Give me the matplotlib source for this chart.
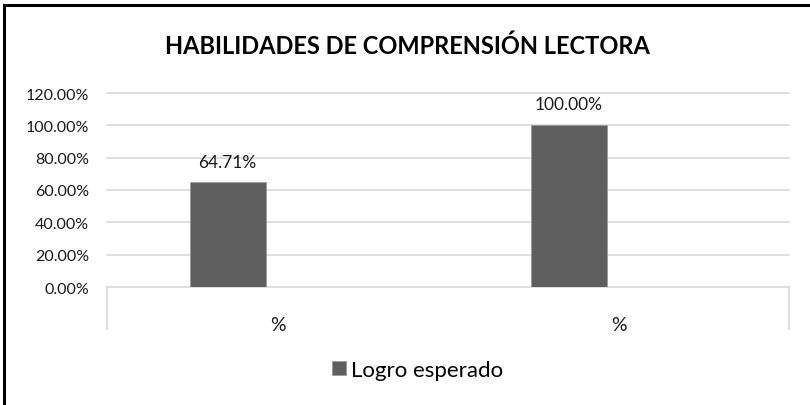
import matplotlib
matplotlib.use('Agg')
import matplotlib.pyplot as plt
from matplotlib.lines import Line2D
from matplotlib.ticker import FuncFormatter

# data
categories = ['%', '%']
logro = [0.6471, 1.0]
series_name = 'Logro esperado'
title = 'HABILIDADES DE COMPRENSIÓN LECTORA'
y_ticks = [0.0, 0.2, 0.4, 0.6, 0.8, 1.0, 1.2]

plt.rcParams['font.family'] = ['Lato', 'DejaVu Sans']

W, H = 810, 406
fig = plt.figure(figsize=(W / 100, H / 100), dpi=100)
fig.patch.set_facecolor('white')

# plot area in pixel coords of the reference
x0, x1, y_top, y_bot = 107, 789, 94, 288
ax = fig.add_axes([x0 / W, 1 - y_bot / H, (x1 - x0) / W, (y_bot - y_top) / H])

bar_color = '#5f5f5f'
pos = [i - 0.146 for i in range(len(categories))]
bars = ax.bar(pos, logro, width=0.223, color=bar_color, edgecolor='#9a9a9a',
              linewidth=0.6, zorder=3, label=series_name)

for p, v in zip(pos, logro):
    ax.annotate('{:.2f}%'.format(v * 100), (p, v), xytext=(0, 15),
                textcoords='offset points', ha='center', va='center',
                fontsize=12.5, color='#1a1a1a')

ax.set_xlim(-0.5, len(categories) - 0.5)
ax.set_ylim(0, 1.2)
ax.set_yticks(y_ticks)
ax.yaxis.set_major_formatter(FuncFormatter(lambda v, _: '{:.2f}%'.format(v * 100)))
ax.set_xticks(range(len(categories)))
ax.set_xticklabels(categories)
ax.tick_params(axis='y', length=0, pad=13, labelsize=11.5, labelcolor='#1a1a1a')
ax.tick_params(axis='x', length=0, pad=21, labelsize=14, labelcolor='#1a1a1a')

for side in ['top', 'right', 'left']:
    ax.spines[side].set_visible(False)
ax.spines['bottom'].set_color('#d9d9d9')
ax.spines['bottom'].set_linewidth(1.2)

for y in y_ticks[1:]:
    ax.axhline(y, color='#d9d9d9', linewidth=1.2, zorder=1, clip_on=False)

# category box side lines
for xa in [0, 1]:
    ax.plot([xa, xa], [0, -0.216], transform=ax.transAxes, color='#d9d9d9',
            linewidth=1.2, clip_on=False)

fig.text(407 / W, 1 - 46 / H, title, ha='center', va='center',
         fontsize=17, fontweight='bold', color='black')

fig.legend(handles=[bars], loc='center', bbox_to_anchor=(418 / W, 1 - 371 / H),
           frameon=False, fontsize=16, handlelength=0.6, handleheight=0.6,
           handletextpad=0.25, borderaxespad=0)

# black frame on left and top edges
fig.add_artist(Line2D([4 / W, 4 / W], [0, 1 - 6 / H], color='black', linewidth=2.2))
fig.add_artist(Line2D([4 / W, 1], [1 - 6 / H, 1 - 6 / H], color='black', linewidth=2.2))

fig.savefig('out.png', dpi=100)
